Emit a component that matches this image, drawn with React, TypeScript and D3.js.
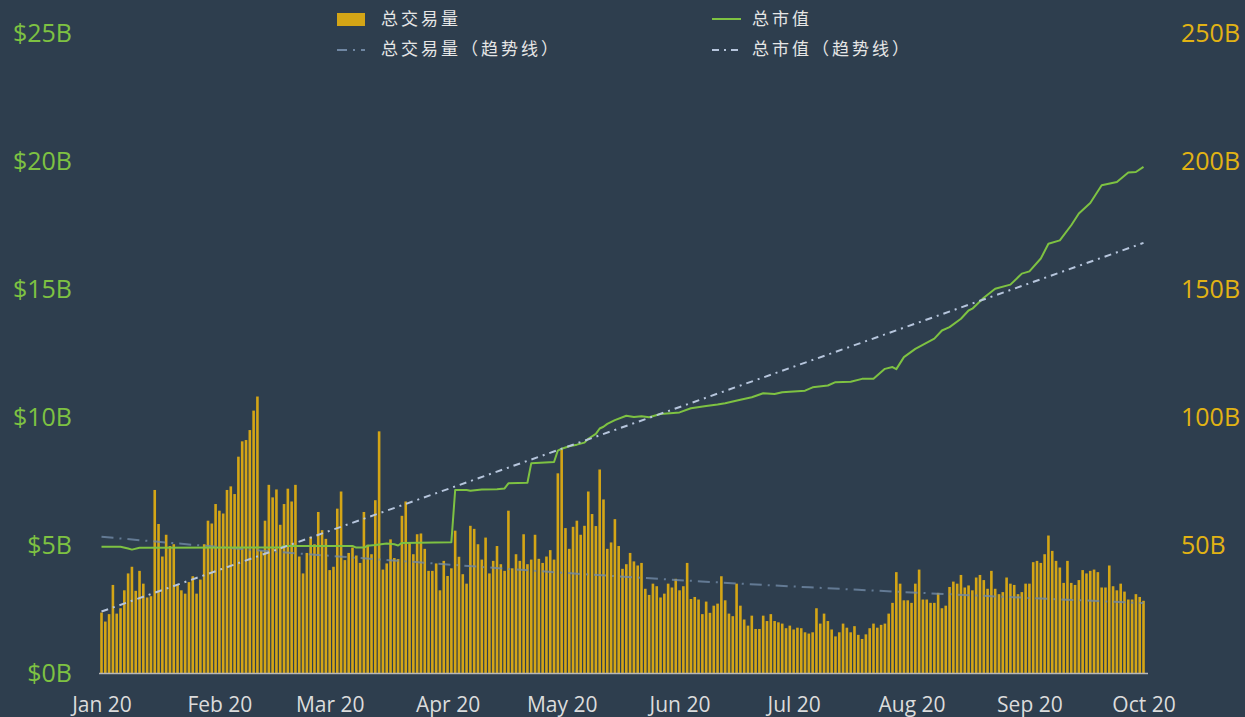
import React, { useRef, useEffect } from "react";
import * as d3 from "d3";

// daily total volume (B, right axis), Jan 1 2020 .. Oct 1 2020
const volume = [
  23.6, 20.1, 23.0, 34.4, 23.2, 25.3, 32.3, 38.9, 41.5, 32.1, 39.9, 34.9, 29.5, 30.0, 71.5, 58.2, 45.5, 54.0, 49.6, 50.3,
  34.7, 32.3, 31.0, 35.5, 37.8, 31.0, 36.5, 50.3, 59.5, 58.4, 66.0, 63.4, 62.3, 71.5, 72.9, 69.9, 84.5, 90.5, 91.0,
  94.9, 102.5, 108.0, 47.7, 59.5, 73.5, 68.6, 71.7, 57.9, 66.0, 72.0, 67.0, 73.5, 45.5, 38.9, 46.9, 53.2, 50.3, 62.9, 55.8,
  52.4, 40.2, 41.5, 64.2, 70.9, 44.1, 46.9, 49.0, 45.9, 43.0, 62.9, 50.1, 46.4, 67.5, 94.4, 40.4, 42.8, 52.2, 44.9,
  44.5, 61.4, 67.0, 51.0, 46.4, 54.2, 54.5, 48.5, 39.9, 39.9, 42.8, 32.3, 43.8, 37.9, 40.9, 55.6, 45.4, 38.6, 34.9, 57.5,
  56.3, 50.3, 44.3, 52.9, 38.9, 43.8, 49.6, 42.5, 39.9, 63.4, 40.9, 46.4, 43.8, 54.2, 42.5, 44.3, 54.0, 44.6, 43.0,
  45.5, 48.0, 44.3, 78.0, 87.4, 56.6, 48.5, 57.1, 59.5, 54.0, 57.5, 70.9, 62.1, 57.4, 79.5, 67.8, 48.5, 51.0, 60.1, 49.6,
  40.7, 42.5, 46.9, 43.6, 42.0, 43.0, 32.9, 30.5, 34.9, 33.9, 29.5, 31.0, 34.9, 33.4, 36.8, 32.3, 33.9, 43.0, 28.9,
  29.7, 28.7, 23.0, 27.9, 23.5, 26.3, 27.1, 37.8, 28.4, 23.2, 22.2, 34.9, 26.3, 20.9, 18.5, 22.4, 17.2, 17.2, 22.4, 20.3,
  23.0, 20.3, 19.8, 19.3, 17.5, 18.5, 17.0, 17.7, 17.5, 15.9, 15.4, 15.9, 25.3, 19.3, 23.2, 20.3, 17.0, 14.3, 15.9,
  19.3, 17.7, 15.9, 18.3, 14.9, 13.3, 15.1, 17.5, 19.3, 17.7, 18.8, 19.3, 23.2, 27.4, 39.4, 34.9, 28.4, 28.4, 27.4, 34.9,
  40.4, 28.7, 28.7, 27.4, 27.4, 31.3, 25.3, 26.3, 33.6, 35.7, 34.9, 38.3, 33.4, 34.2, 32.3, 37.3, 38.3, 36.3, 32.9,
  39.9, 32.9, 30.8, 31.6, 37.3, 34.9, 34.4, 30.8, 31.6, 34.9, 34.9, 43.3, 43.8, 43.0, 46.4, 53.7, 47.7, 43.8, 41.2, 35.2,
  43.8, 35.2, 34.4, 36.3, 40.2, 38.9, 39.9, 40.4, 39.4, 33.4, 33.4, 42.0, 33.9, 32.3, 34.9, 31.8, 28.7, 28.7, 30.8, 29.7, 28.2,
];

// total market cap ($B, left axis) read at day offsets from Jan 1
const capDays = [
  0, 5, 7, 8, 10, 38, 47, 48, 66, 67, 69, 70, 72, 75, 77, 78, 79, 92, 93, 96, 97, 100, 104, 106, 107, 112, 113, 119,
  120, 121, 123, 125, 127, 128, 130, 131, 132, 133, 135, 138, 140, 142, 144, 147, 152, 155, 159, 162, 164, 168, 171,
  174, 177, 179, 182, 185, 187, 191, 193, 197, 200, 203, 206, 208, 209, 211, 214, 219, 221, 223, 226, 228, 229, 232,
  235, 239, 242, 244, 247, 249, 252, 255, 257, 260, 263, 267, 270, 272, 274,
];
const capValues = [
  4.93, 4.93, 4.86, 4.82, 4.89, 4.9, 4.9, 4.96, 4.96, 4.9, 4.9, 4.97, 5.0, 5.06, 5.03, 4.98, 5.08, 5.11, 7.15, 7.15,
  7.12, 7.17, 7.18, 7.21, 7.41, 7.43, 8.19, 8.24, 8.69, 8.76, 8.86, 8.92, 9.0, 9.15, 9.34, 9.55, 9.62, 9.73, 9.88,
  10.05, 10.0, 10.03, 9.99, 10.12, 10.18, 10.34, 10.43, 10.49, 10.54, 10.67, 10.77, 10.93, 10.9, 10.97, 11.0, 11.03,
  11.16, 11.23, 11.36, 11.38, 11.49, 11.49, 11.88, 11.95, 11.87, 12.34, 12.66, 13.06, 13.38, 13.51, 13.84, 14.16,
  14.23, 14.66, 15.01, 15.17, 15.6, 15.69, 16.19, 16.77, 16.9, 17.49, 17.95, 18.36, 19.05, 19.18, 19.55, 19.57, 19.77,
];

// trend lines
const volTrendDays = [0, 50, 81, 125, 168, 199, 274];
const volTrendValues = [53.2, 46.9, 43.5, 38.8, 34.9, 32.5, 27.3];
const capTrendDays = [0, 274];
const capTrendValues = [2.4, 16.8];

const leftTicks = [0, 5, 10, 15, 20, 25];
const rightTicks = [50, 100, 150, 200, 250];

const BG = "#2e3e4e";
const GOLD = "#d4a516";
const GREEN = "#7ec242";

export default function App() {
  const svgRef = useRef<SVGSVGElement>(null);

  useEffect(() => {
    const width = 1245;
    const height = 717;
    const start = new Date(Date.UTC(2020, 0, 1));
    const day = (i: number) => d3.utcDay.offset(start, i);

    const svg = d3.select(svgRef.current);
    svg.selectAll("*").remove();
    svg.append("rect").attr("width", width).attr("height", height).attr("fill", BG);

    const x = d3
      .scaleUtc()
      .domain([start, day(274)])
      .range([101.5, 1143.5]);
    const yL = d3.scaleLinear().domain([0, 25]).range([673, 33]);
    const yR = d3.scaleLinear().domain([0, 250]).range([673, 33]);

    // BARS
    const bw = 2.6;
    svg
      .append("g")
      .selectAll("rect")
      .data(volume)
      .join("rect")
      .attr("x", (d, i) => x(day(i)) - bw / 2)
      .attr("y", (d) => yR(d))
      .attr("width", bw)
      .attr("height", (d) => yR(0) - yR(d))
      .attr("fill", GOLD);

    // volume trend
    const volLine = d3
      .line<number>()
      .x((d, i) => x(day(volTrendDays[i])))
      .y((d) => yR(d))
      .curve(d3.curveMonotoneX);
    svg
      .append("path")
      .attr("d", volLine(volTrendValues))
      .attr("fill", "none")
      .attr("stroke", "#7189a6")
      .attr("stroke-opacity", 0.8)
      .attr("stroke-width", 2)
      .attr("stroke-dasharray", "12,6,2,6");

    // market cap
    const capLine = d3
      .line<number>()
      .x((d, i) => x(day(capDays[i])))
      .y((d) => yL(d));
    svg
      .append("path")
      .attr("d", capLine(capValues))
      .attr("fill", "none")
      .attr("stroke", GREEN)
      .attr("stroke-width", 2)
      .attr("stroke-linejoin", "round");

    // market cap trend
    const capTrend = d3
      .line<number>()
      .x((d, i) => x(day(capTrendDays[i])))
      .y((d) => yL(d));
    svg
      .append("path")
      .attr("d", capTrend(capTrendValues))
      .attr("fill", "none")
      .attr("stroke", "#b6c5dc")
      .attr("stroke-width", 2)
      .attr("stroke-dasharray", "7,5,2,5");

    // X AXIS
    svg
      .append("line")
      .attr("x1", 99)
      .attr("x2", 1148)
      .attr("y1", 673.5)
      .attr("y2", 673.5)
      .attr("stroke", "#b8b8b8")
      .attr("stroke-width", 1.5);
    const xa = svg
      .append("g")
      .attr("transform", "translate(0,673)")
      .call(
        d3
          .axisBottom(x)
          .ticks(d3.utcMonth.every(1))
          .tickFormat((d) => d3.utcFormat("%b %y")(d as Date))
          .tickSize(0)
          .tickPadding(24)
      );
    xa.select(".domain").remove();
    xa.selectAll("text")
      .attr("fill", "#dcdcdc")
      .style("font-family", "'Open Sans', sans-serif")
      .style("font-size", "21px");

    // LEFT AXIS
    const la = svg
      .append("g")
      .attr("transform", "translate(72,0)")
      .call(
        d3
          .axisLeft(yL)
          .tickValues(leftTicks)
          .tickFormat((d) => `$${d}B`)
          .tickSize(0)
          .tickPadding(0)
      );
    la.select(".domain").remove();
    la.selectAll("text")
      .attr("fill", GREEN)
      .style("font-family", "'Open Sans', sans-serif")
      .style("font-size", "25px");

    // RIGHT AXIS
    const ra = svg
      .append("g")
      .attr("transform", "translate(1181,0)")
      .call(
        d3
          .axisRight(yR)
          .tickValues(rightTicks)
          .tickFormat((d) => `${d}B`)
          .tickSize(0)
          .tickPadding(0)
      );
    ra.select(".domain").remove();
    ra.selectAll("text")
      .attr("fill", "#e2b314")
      .style("font-family", "'Open Sans', sans-serif")
      .style("font-size", "25px");

    // LEGEND
    const lg = svg.append("g").style("font-family", "'Noto Sans CJK SC', sans-serif");
    const legText = (tx: number, ty: number, s: string) =>
      lg
        .append("text")
        .attr("x", tx)
        .attr("y", ty)
        .attr("dy", "0.35em")
        .attr("fill", "#e6e6e6")
        .style("font-size", "17px")
        .style("letter-spacing", "3px")
        .text(s);

    lg.append("rect").attr("x", 337).attr("y", 13).attr("width", 28).attr("height", 13).attr("fill", GOLD);
    legText(381, 19, "总交易量");
    lg.append("line")
      .attr("x1", 337).attr("x2", 365).attr("y1", 50).attr("y2", 50)
      .attr("stroke", "#6f86a2").attr("stroke-width", 2).attr("stroke-dasharray", "10,6,2,6");
    legText(381, 49, "总交易量（趋势线）");

    lg.append("line")
      .attr("x1", 712).attr("x2", 741).attr("y1", 19).attr("y2", 19)
      .attr("stroke", GREEN).attr("stroke-width", 2);
    legText(752, 19, "总市值");
    lg.append("line")
      .attr("x1", 712).attr("x2", 741).attr("y1", 50).attr("y2", 50)
      .attr("stroke", "#b6c5dc").attr("stroke-width", 2).attr("stroke-dasharray", "7,5,2,5");
    legText(752, 49, "总市值（趋势线）");
  }, []);

  return (
    <svg
      ref={svgRef}
      width={1245}
      height={717}
      style={{ position: "fixed", left: 0, top: 0, display: "block" }}
    ></svg>
  );
}
